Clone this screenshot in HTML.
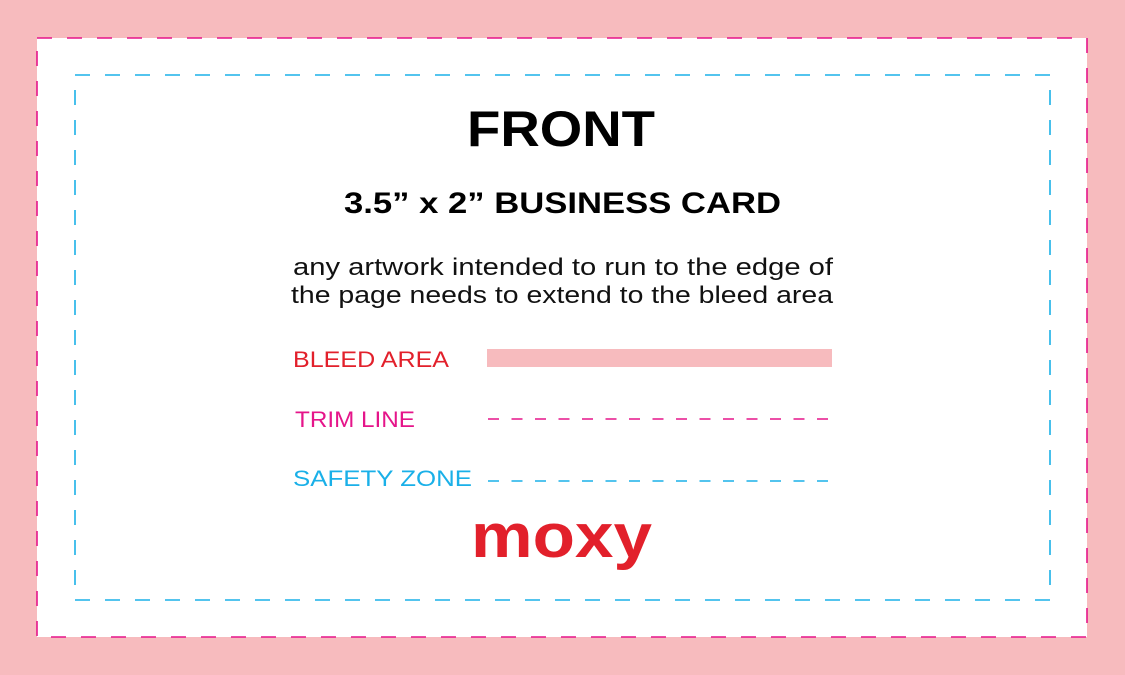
<!DOCTYPE html>
<html><head><meta charset="utf-8"><style>html,body{margin:0;padding:0;background:#f7bbbe}svg{display:block}</style></head>
<body>
<svg width="1125" height="675" viewBox="0 0 1125 675" xmlns="http://www.w3.org/2000/svg" font-family="Liberation Sans, sans-serif">
<rect x="0" y="0" width="1125" height="675" fill="#f7bbbe"/>
<rect x="37" y="38" width="1050" height="599" fill="#fff"/>
<rect x="37" y="38" width="1050" height="599" fill="none" stroke="#e5158a" stroke-width="1.6" stroke-dasharray="15 15"/>
<rect x="75" y="75" width="975" height="525" fill="none" stroke="#1ab0e8" stroke-width="1.6" stroke-dasharray="15 15"/>
<text x="467" y="146" font-size="50" font-weight="bold" textLength="188" lengthAdjust="spacingAndGlyphs" fill="#000">FRONT</text>
<text x="344" y="213" font-size="30" font-weight="bold" textLength="437" lengthAdjust="spacingAndGlyphs" fill="#000">3.5” x 2” BUSINESS CARD</text>
<text x="293" y="275" font-size="24" textLength="540" lengthAdjust="spacingAndGlyphs" fill="#111">any artwork intended to run to the edge of</text>
<text x="291" y="303" font-size="24" textLength="542" lengthAdjust="spacingAndGlyphs" fill="#111">the page needs to extend to the bleed area</text>
<text x="293" y="367" font-size="22" textLength="156" lengthAdjust="spacingAndGlyphs" fill="#e2202b">BLEED AREA</text>
<rect x="487" y="349" width="345" height="18" fill="#f7bbbe"/>
<text x="295" y="427" font-size="22" textLength="120" lengthAdjust="spacingAndGlyphs" fill="#e5158a">TRIM LINE</text>
<line x1="488" y1="419" x2="833" y2="419" stroke="#e5158a" stroke-width="1.6" stroke-dasharray="11 12.5"/>
<text x="293" y="486" font-size="22" textLength="179" lengthAdjust="spacingAndGlyphs" fill="#1ab0e8">SAFETY ZONE</text>
<line x1="488" y1="481" x2="833" y2="481" stroke="#1ab0e8" stroke-width="1.6" stroke-dasharray="11 12.5"/>
<text x="471" y="557" font-size="62" font-weight="bold" textLength="181" lengthAdjust="spacingAndGlyphs" fill="#e2202b">moxy</text>
</svg>
</body></html>
